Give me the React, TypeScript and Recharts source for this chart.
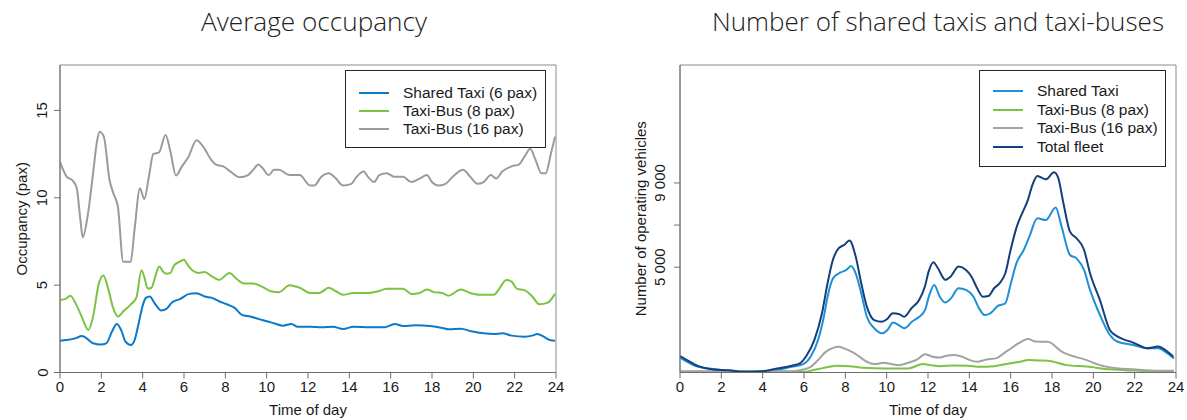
import React from 'react';
import { LineChart, Line, XAxis, YAxis, ReferenceArea, Legend } from 'recharts';

// ---------- shared ----------
const hourTicks = [0, 2, 4, 6, 8, 10, 12, 14, 16, 18, 20, 22, 24];
const titleLeft = 'Average occupancy';
const titleRight = 'Number of shared taxis and taxi-buses';
const xTitle = 'Time of day';

// ---------- Average occupancy ----------
const occYTicks = [0, 5, 10, 15];
const occYMax = 17.6;
const occNames = ['Shared Taxi (6 pax)', 'Taxi-Bus (8 pax)', 'Taxi-Bus (16 pax)'];
const occColors = ['#0B79C9', '#7DC242', '#9B9B9B'];

const occTaxiHours = [0, 0.33, 0.78, 1.05, 1.24, 1.6, 1.97, 2.24, 2.5, 2.75, 2.97, 3.16, 3.43, 3.6, 3.8, 4.0, 4.16, 4.34, 4.6, 4.9, 5.15, 5.43, 5.8, 6.25, 6.6, 7.0, 7.35, 7.7, 8.1, 8.45, 8.8, 9.2, 9.6, 10.0, 10.35, 10.8, 11.2, 11.5, 12.1, 12.65, 13.2, 13.7, 14.2, 15.0, 15.7, 16.2, 16.6, 17.2, 17.9, 18.5, 18.8, 19.4, 19.9, 20.5, 21.0, 21.4, 21.85, 22.5, 22.85, 23.1, 23.4, 23.7, 23.95];
const occTaxiValues = [1.82, 1.86, 1.97, 2.09, 2.0, 1.67, 1.6, 1.67, 2.3, 2.78, 2.4, 1.78, 1.57, 1.82, 2.78, 3.83, 4.27, 4.35, 3.93, 3.55, 3.64, 4.02, 4.2, 4.5, 4.54, 4.35, 4.27, 4.08, 3.89, 3.7, 3.3, 3.2, 3.07, 2.93, 2.82, 2.68, 2.78, 2.62, 2.62, 2.59, 2.62, 2.49, 2.62, 2.59, 2.59, 2.78, 2.66, 2.7, 2.66, 2.55, 2.47, 2.51, 2.36, 2.24, 2.2, 2.24, 2.11, 2.05, 2.11, 2.2, 2.05, 1.86, 1.82];

const occBus8Hours = [0, 0.24, 0.5, 0.78, 1.05, 1.37, 1.6, 1.88, 2.1, 2.33, 2.57, 2.8, 3.06, 3.43, 3.7, 3.94, 4.07, 4.25, 4.43, 4.6, 4.8, 5.0, 5.15, 5.35, 5.5, 5.8, 6.0, 6.15, 6.4, 6.7, 7.0, 7.35, 7.7, 8.2, 8.55, 8.9, 9.35, 9.8, 10.2, 10.6, 11.1, 11.6, 12.1, 12.55, 13.0, 13.35, 13.7, 14.2, 14.9, 15.4, 15.8, 16.6, 17.0, 17.4, 17.75, 18.1, 18.5, 18.8, 19.4, 19.85, 20.3, 21.0, 21.2, 21.6, 21.85, 22.1, 22.5, 22.85, 23.2, 23.6, 23.95];
const occBus8Values = [4.16, 4.2, 4.4, 3.9, 3.2, 2.43, 3.2, 5.1, 5.55, 4.8, 3.7, 3.2, 3.5, 3.9, 4.3, 5.85, 5.5, 4.8, 4.85, 5.45, 6.07, 5.75, 5.65, 5.7, 6.1, 6.35, 6.45, 6.2, 5.85, 5.7, 5.75, 5.5, 5.3, 5.7, 5.35, 5.1, 5.1, 4.9, 4.65, 4.6, 5.0, 4.85, 4.55, 4.55, 4.85, 4.65, 4.45, 4.55, 4.55, 4.65, 4.8, 4.8, 4.5, 4.55, 4.75, 4.6, 4.55, 4.4, 4.75, 4.55, 4.45, 4.45, 4.7, 5.3, 5.2, 4.8, 4.7, 4.35, 3.9, 4.0, 4.5];

const occBus16Hours = [0, 0.33, 0.6, 0.8, 1.0, 1.1, 1.33, 1.6, 1.8, 1.92, 2.12, 2.4, 2.6, 2.8, 3.06, 3.42, 3.6, 3.87, 4.08, 4.3, 4.51, 4.79, 5.11, 5.35, 5.61, 5.9, 6.2, 6.61, 7.0, 7.3, 7.58, 7.9, 8.25, 8.7, 9.1, 9.35, 9.6, 9.8, 10.1, 10.35, 10.6, 11.1, 11.6, 12.1, 12.3, 12.65, 13.0, 13.35, 13.7, 14.1, 14.35, 14.7, 14.9, 15.2, 15.45, 15.8, 16.2, 16.6, 17.0, 17.4, 17.75, 18.0, 18.3, 18.65, 19.0, 19.5, 19.85, 20.2, 20.5, 20.85, 21.1, 21.4, 21.85, 22.2, 22.5, 22.75, 23.0, 23.3, 23.5, 23.75, 23.95];
const occBus16Values = [12.05, 11.2, 11.0, 10.6, 8.6, 7.74, 8.9, 11.4, 13.3, 13.78, 13.5, 11.0, 10.2, 9.5, 6.34, 6.34, 8.1, 10.54, 9.93, 11.2, 12.5, 12.6, 13.6, 12.6, 11.27, 11.8, 12.3, 13.3, 12.8, 12.2, 11.88, 11.8, 11.5, 11.17, 11.3, 11.6, 11.9, 11.7, 11.3, 11.6, 11.6, 11.3, 11.3, 10.7, 10.7, 11.2, 11.4, 11.1, 10.7, 10.8, 11.2, 11.5, 11.2, 10.9, 11.3, 11.4, 11.2, 11.2, 10.9, 11.1, 11.3, 10.9, 10.7, 10.8, 11.2, 11.6, 11.2, 10.8, 10.9, 11.3, 11.1, 11.5, 11.8, 11.9, 12.4, 12.8, 12.2, 11.4, 11.4, 12.5, 13.5];

// ---------- Number of vehicles ----------
const fleetYTicks = [5000, 7000, 9000];
const fleetYLabels: Record<number, string> = { 5000: '5 000', 7000: '', 9000: '9 000' };
const fleetYMax = 14600;
const fleetNames = ['Shared Taxi', 'Taxi-Bus (8 pax)', 'Taxi-Bus (16 pax)', 'Total fleet'];
const fleetColors = ['#1F8FD8', '#7DC242', '#A3A3A3', '#133F7B'];

const taxiHours = [0, 0.89, 2.34, 3.97, 5.4, 5.96, 6.32, 6.68, 6.96, 7.14, 7.41, 7.77, 8.05, 8.28, 8.5, 8.77, 9.04, 9.4, 9.77, 10.04, 10.31, 10.58, 10.86, 11.22, 11.58, 11.86, 12.04, 12.3, 12.57, 12.84, 13.11, 13.48, 13.84, 14.2, 14.47, 14.74, 15.01, 15.38, 15.74, 16.01, 16.28, 16.64, 16.91, 17.29, 17.7, 18.18, 18.46, 18.87, 19.19, 19.55, 19.84, 20.32, 20.8, 21.18, 21.93, 22.58, 23.14, 23.54, 23.9];
const taxiValues = [710, 270, 95, 30, 270, 400, 750, 1540, 2650, 3600, 4480, 4750, 4870, 5060, 4710, 3760, 2650, 2100, 1860, 2020, 2370, 2250, 2100, 2410, 2650, 2970, 3600, 4160, 3600, 3320, 3520, 4000, 3920, 3600, 3050, 2730, 2810, 3160, 3290, 4240, 5190, 5830, 6460, 7320, 7240, 7840, 6940, 5580, 5420, 4870, 3920, 2730, 1780, 1460, 1310, 1150, 1150, 940, 670];

const bus8Hours = [0, 3.0, 5.96, 6.32, 7.05, 7.59, 8.23, 8.86, 9.95, 11.04, 11.76, 12.13, 12.57, 13.21, 13.93, 14.47, 15.2, 15.92, 16.46, 16.85, 17.37, 17.8, 18.7, 19.68, 20.8, 21.93, 23.0, 23.9];
const bus8Values = [30, 30, 30, 80, 240, 320, 300, 220, 190, 190, 400, 350, 300, 330, 320, 270, 300, 430, 510, 590, 570, 560, 350, 280, 150, 90, 50, 30];

const bus16Hours = [0, 3.0, 5.4, 5.96, 6.32, 6.68, 7.05, 7.41, 7.68, 7.95, 8.32, 8.68, 9.04, 9.4, 9.86, 10.22, 10.58, 11.04, 11.49, 11.85, 12.22, 12.58, 12.84, 13.3, 13.66, 14.02, 14.38, 14.84, 15.29, 15.65, 16.01, 16.37, 16.85, 17.2, 17.8, 18.47, 19.68, 20.32, 21.13, 21.93, 22.8, 23.9];
const bus16Values = [60, 60, 60, 140, 270, 590, 980, 1170, 1220, 1140, 980, 750, 510, 400, 460, 400, 350, 460, 620, 870, 750, 710, 780, 830, 750, 590, 510, 620, 670, 900, 1140, 1380, 1590, 1470, 1460, 990, 590, 350, 200, 150, 100, 80];

const totalHours = [0, 0.34, 0.89, 1.6, 2.34, 3.06, 3.97, 4.7, 5.4, 5.8, 6.14, 6.5, 6.87, 7.14, 7.4, 7.68, 7.95, 8.2, 8.5, 8.77, 9.04, 9.4, 9.76, 10.0, 10.3, 10.58, 10.85, 11.2, 11.57, 11.85, 12.03, 12.26, 12.48, 12.84, 13.1, 13.48, 13.84, 14.1, 14.38, 14.65, 14.92, 15.2, 15.47, 15.74, 16.0, 16.3, 16.56, 16.84, 17.05, 17.29, 17.7, 18.1, 18.3, 18.55, 18.87, 19.19, 19.55, 19.84, 20.32, 20.8, 21.05, 21.5, 21.93, 22.3, 22.58, 23.14, 23.5, 23.87];
const totalValues = [780, 590, 300, 140, 110, 30, 60, 190, 320, 430, 830, 1540, 2810, 4240, 5350, 5900, 6060, 6270, 5510, 4240, 3130, 2490, 2410, 2520, 2810, 2780, 2650, 3050, 3440, 4080, 4790, 5240, 4950, 4400, 4560, 5030, 4870, 4560, 4000, 3600, 3630, 4000, 4240, 4710, 5830, 6940, 7570, 8210, 8900, 9330, 9170, 9505, 9240, 8050, 6690, 6370, 5830, 4710, 3440, 2020, 1780, 1560, 1420, 1250, 1150, 1230, 1050, 750];

// ---------- helpers ----------
const toPoints = (hours: number[], values: number[]) => hours.map((t, i) => ({ t, v: values[i] }));

const occSeries = [
  toPoints(occTaxiHours, occTaxiValues),
  toPoints(occBus8Hours, occBus8Values),
  toPoints(occBus16Hours, occBus16Values),
];
const fleetSeries = [
  toPoints(taxiHours, taxiValues),
  toPoints(bus8Hours, bus8Values),
  toPoints(bus16Hours, bus16Values),
  toPoints(totalHours, totalValues),
];

const FONT = '"Liberation Sans", Arial, sans-serif';
const TEXT = '#1a1a1a';
const AXIS = '#6e6e6e';
const BOX = '#8a8a8a';

const XTick = (props: any) => {
  const { x, y, payload } = props;
  return (
    <text x={x} y={y} dy="0.72em" textAnchor="middle" fontFamily={FONT} fontSize={15} fill={TEXT}>
      {payload.value}
    </text>
  );
};

const makeYTick = (labels?: Record<number, string>) => (props: any) => {
  const { x, y, payload } = props;
  const label = labels ? labels[payload.value] : String(payload.value);
  return (
    <text
      x={x}
      y={y}
      transform={`rotate(-90 ${x} ${y})`}
      textAnchor="middle"
      dominantBaseline="central"
      fontFamily={FONT}
      fontSize={15}
      fill={TEXT}
    >
      {label}
    </text>
  );
};

const makeYTitle = (text: string, cx: number) => (props: any) => {
  const vb = props.viewBox || {};
  const cy = vb.y + vb.height / 2;
  return (
    <text
      x={cx}
      y={cy}
      transform={`rotate(-90 ${cx} ${cy})`}
      textAnchor="middle"
      dominantBaseline="central"
      fontFamily={FONT}
      fontSize={15}
      fill={TEXT}
    >
      {text}
    </text>
  );
};

const makeXTitle = (text: string, baseline: number) => (props: any) => {
  const vb = props.viewBox || {};
  const cx = vb.x + vb.width / 2;
  return (
    <text x={cx} y={baseline} textAnchor="middle" fontFamily={FONT} fontSize={15} fill={TEXT}>
      {text}
    </text>
  );
};

const makeLegend = (names: string[], colors: string[], w: number, h: number, rows: number[]) => () => (
  <div
    style={{
      position: 'relative',
      width: w,
      height: h,
      border: '1px solid #262626',
      boxSizing: 'border-box',
      background: '#fff',
      fontFamily: FONT,
      fontSize: 15.5,
      color: TEXT,
    }}
  >
    {names.map((n, i) => (
      <div key={n} style={{ position: 'absolute', left: 0, top: rows[i] - 10, height: 20, display: 'flex', alignItems: 'center', whiteSpace: 'nowrap' }}>
        <svg width={57} height={20} style={{ display: 'block' }}>
          <line x1={13} x2={43} y1={10} y2={10} stroke={colors[i]} strokeWidth={2} />
        </svg>
        <span style={{ lineHeight: '20px' }}>{n}</span>
      </div>
    ))}
  </div>
);

export default function App() {
  return (
    <div style={{ position: 'absolute', left: 0, top: 0, width: 1187, height: 420, background: '#fff', overflow: 'hidden' }}>
      <svg width={1187} height={50} style={{ position: 'absolute', left: 0, top: 0 }}>
        <text x={314} y={31} textAnchor="middle" fontFamily='"Open Sans", sans-serif' fontWeight={300} fontSize={26} fill="#222" textLength={226} lengthAdjust="spacingAndGlyphs">
          {titleLeft}
        </text>
        <text x={938} y={31} textAnchor="middle" fontFamily='"Open Sans", sans-serif' fontWeight={300} fontSize={26} fill="#222" textLength={452} lengthAdjust="spacingAndGlyphs">
          {titleRight}
        </text>
      </svg>

      <div style={{ position: 'absolute', left: 0, top: 0 }}>
        <LineChart width={593} height={420} margin={{ top: 65, right: 37, bottom: 7.5, left: 0 }}>
          <XAxis
            dataKey="t"
            type="number"
            domain={[0, 24]}
            ticks={hourTicks}
            interval={0}
            allowDataOverflow
            height={40}
            tickSize={6}
            tickMargin={3}
            stroke={AXIS}
            tick={XTick}
            label={{ content: makeXTitle(xTitle, 415) }}
          />
          <YAxis
            type="number"
            domain={[0, occYMax]}
            ticks={occYTicks}
            interval={0}
            allowDataOverflow
            width={60}
            tickSize={6}
            tickMargin={12}
            stroke={AXIS}
            tick={makeYTick()}
            label={{ content: makeYTitle('Occupancy (pax)', 21.5) }}
          />
          <ReferenceArea x1={0} x2={24} y1={0} y2={occYMax} fill="none" stroke={BOX} strokeWidth={1} ifOverflow="visible" />
          {occSeries.map((d, i) => (
            <Line
              key={occNames[i]}
              data={d}
              dataKey="v"
              name={occNames[i]}
              type="monotone"
              stroke={occColors[i]}
              strokeWidth={2}
              dot={false}
              activeDot={false}
              isAnimationActive={false}
            />
          ))}
          <Legend
            layout="horizontal"
            verticalAlign="middle"
            align="center"
            content={makeLegend(occNames, occColors, 201, 78, [22, 40, 58])}
            wrapperStyle={{ left: 345, top: 70, width: 201, height: 78 }}
          />
        </LineChart>
      </div>

      <div style={{ position: 'absolute', left: 593, top: 0 }}>
        <LineChart width={594} height={420} margin={{ top: 65, right: 11, bottom: 7.5, left: 0 }}>
          <XAxis
            dataKey="t"
            type="number"
            domain={[0, 24]}
            ticks={hourTicks}
            interval={0}
            allowDataOverflow
            height={40}
            tickSize={6}
            tickMargin={3}
            stroke={AXIS}
            tick={XTick}
            label={{ content: makeXTitle(xTitle, 415) }}
          />
          <YAxis
            type="number"
            domain={[0, fleetYMax]}
            ticks={fleetYTicks}
            interval={0}
            allowDataOverflow
            width={87}
            tickSize={6}
            tickMargin={14}
            stroke={AXIS}
            tick={makeYTick(fleetYLabels)}
            label={{ content: makeYTitle('Number of operating vehicles', 47) }}
          />
          <ReferenceArea x1={0} x2={24} y1={0} y2={fleetYMax} fill="none" stroke={BOX} strokeWidth={1} ifOverflow="visible" />
          {fleetSeries.map((d, i) => (
            <Line
              key={fleetNames[i]}
              data={d}
              dataKey="v"
              name={fleetNames[i]}
              type="monotone"
              stroke={fleetColors[i]}
              strokeWidth={2}
              dot={false}
              activeDot={false}
              isAnimationActive={false}
            />
          ))}
          <Legend
            layout="horizontal"
            verticalAlign="middle"
            align="center"
            content={makeLegend(fleetNames, fleetColors, 187, 97, [20, 38.5, 57, 75.5])}
            wrapperStyle={{ left: 386, top: 70, width: 187, height: 97 }}
          />
        </LineChart>
      </div>
    </div>
  );
}
